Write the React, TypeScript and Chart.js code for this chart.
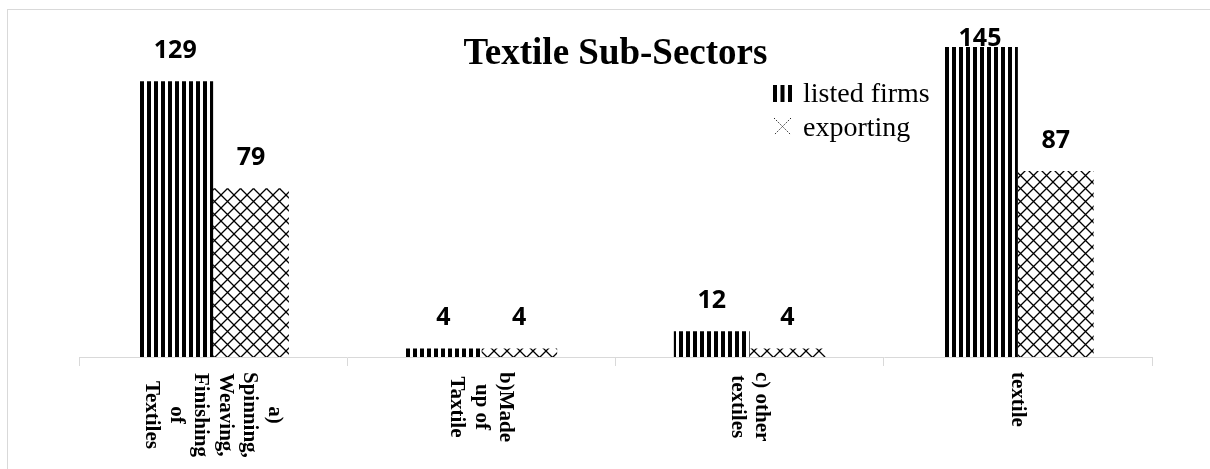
import React, { useEffect, useRef } from 'react';
import { Chart, registerables } from 'chart.js';

Chart.register(...registerables);

// ---- data ----
const categories: string[][] = [
  ['a)', 'Spinning,', 'Weaving,', 'Finishing', 'of', 'Textiles'],
  ['b)Made', 'up of', 'Taxtile'],
  ['c) other', 'textiles'],
  ['textile'],
];
const listedFirms = [129, 4, 12, 145];
const exporting = [79, 4, 4, 87];
const seriesNames = ['listed firms', 'exporting'];
const chartTitle = 'Textile Sub-Sectors';

const W = 1210;
const H = 469;

function stripePattern(): CanvasPattern {
  const c = document.createElement('canvas');
  c.width = 7;
  c.height = 7;
  const g = c.getContext('2d')!;
  g.fillStyle = '#fff';
  g.fillRect(0, 0, 7, 7);
  g.fillStyle = '#000';
  g.fillRect(0, 0, 4, 7);
  return g.createPattern(c, 'repeat')!;
}

function crossPattern(): CanvasPattern {
  const s = 13;
  const c = document.createElement('canvas');
  c.width = s;
  c.height = s;
  const g = c.getContext('2d')!;
  g.fillStyle = '#fff';
  g.fillRect(0, 0, s, s);
  g.strokeStyle = '#000';
  g.lineWidth = 1.3;
  g.beginPath();
  g.moveTo(0, 0);
  g.lineTo(s, s);
  g.moveTo(s, 0);
  g.lineTo(0, s);
  g.stroke();
  return g.createPattern(c, 'repeat')!;
}

const valueLabels = {
  id: 'valueLabels',
  afterDatasetsDraw(chart: any) {
    const ctx = chart.ctx as CanvasRenderingContext2D;
    ctx.save();
    ctx.font = 'bold 25px "Open Sans"';
    ctx.fillStyle = '#000';
    ctx.textAlign = 'center';
    ctx.textBaseline = 'alphabetic';
    chart.data.datasets.forEach((ds: any, di: number) => {
      const meta = chart.getDatasetMeta(di);
      meta.data.forEach((bar: any, i: number) => {
        const y = Math.max(bar.y - 23, chart.chartArea.top + 31);
        ctx.fillText(String(ds.data[i]), bar.x, y);
      });
    });
    ctx.restore();
  },
};

const decorations = {
  id: 'decorations',
  afterDraw(chart: any) {
    const ctx = chart.ctx as CanvasRenderingContext2D;
    const area = chart.chartArea;
    ctx.save();
    // title
    ctx.fillStyle = '#000';
    ctx.font = 'bold 37px "Liberation Serif"';
    ctx.textAlign = 'center';
    ctx.textBaseline = 'alphabetic';
    ctx.fillText(chartTitle, (area.left + area.right) / 2, area.top + 49);

    // legend
    const lx = area.right - 379;
    const ly1 = area.top + 87; // baseline row 1
    const ly2 = ly1 + 34;
    ctx.fillStyle = '#000';
    for (let k = 0; k < 3; k++) ctx.fillRect(lx + k * 7.5, ly1 - 17, 4, 17);
    ctx.strokeStyle = '#222';
    ctx.lineWidth = 1;
    ctx.setLineDash([1.5, 1.5]);
    ctx.beginPath();
    ctx.moveTo(lx + 1, ly2 - 18);
    ctx.lineTo(lx + 18, ly2 - 1);
    ctx.moveTo(lx + 18, ly2 - 18);
    ctx.lineTo(lx + 1, ly2 - 1);
    ctx.stroke();
    ctx.setLineDash([]);
    ctx.font = '28px "Liberation Serif"';
    ctx.textAlign = 'left';
    ctx.fillText(seriesNames[0], lx + 30, ly1);
    ctx.fillText(seriesNames[1], lx + 30, ly2);

    // rotated category labels (clockwise, top-to-bottom)
    const xs = chart.scales.x;
    ctx.font = 'bold 21px "Liberation Serif"';
    ctx.textAlign = 'center';
    ctx.textBaseline = 'middle';
    const lh = 24.5;
    categories.forEach((lines, i) => {
      const cx = xs.getPixelForValue(i);
      const maxLen = Math.max(...lines.map((l) => ctx.measureText(l).width));
      ctx.save();
      ctx.translate(cx, area.bottom + 15);
      ctx.rotate(Math.PI / 2);
      const n = lines.length;
      lines.forEach((line, j) => {
        ctx.fillText(line, maxLen / 2, (j - (n - 1) / 2) * lh);
      });
      ctx.restore();
    });
    ctx.restore();
  },
};

export default function App() {
  const ref = useRef<HTMLCanvasElement | null>(null);

  useEffect(() => {
    if (!ref.current) return;
    const chart = new Chart(ref.current, {
      type: 'bar',
      data: {
        labels: categories.map((c) => c.join(' ')),
        datasets: [
          {
            label: seriesNames[0],
            data: listedFirms,
            backgroundColor: stripePattern(),
            borderWidth: 0,
          },
          {
            label: seriesNames[1],
            data: exporting,
            backgroundColor: crossPattern(),
            borderWidth: 0,
          },
        ],
      },
      options: {
        responsive: false,
        maintainAspectRatio: false,
        animation: false,
        layout: { padding: { left: 79, right: 58, top: 15, bottom: 103 } },
        plugins: {
          legend: { display: false },
          title: { display: false },
          tooltip: { enabled: false },
        },
        datasets: {
          bar: { barPercentage: 1, categoryPercentage: 0.565 },
        },
        scales: {
          x: {
            grid: {
              offset: true,
              drawOnChartArea: false,
              drawTicks: true,
              tickLength: 9,
              color: '#d9d9d9',
            },
            border: { color: '#d9d9d9', width: 1 },
            ticks: { display: false },
          },
          y: {
            display: false,
            min: 0,
            max: 160,
          },
        },
      },
      plugins: [valueLabels, decorations],
    });
    return () => chart.destroy();
  }, []);

  return (
    <div style={{ position: 'absolute', left: 0, top: 0, width: W, height: H, background: '#fff', overflow: 'hidden' }}>
      <canvas ref={ref} width={W} height={H} style={{ position: 'absolute', left: 0, top: 0, width: W, height: H }} />
      <div
        style={{
          position: 'absolute',
          left: 7,
          top: 9,
          width: W + 40,
          height: H + 40,
          borderLeft: '1px solid #d9d9d9',
          borderTop: '1px solid #d9d9d9',
          boxSizing: 'border-box',
          pointerEvents: 'none',
        }}
      />
    </div>
  );
}
